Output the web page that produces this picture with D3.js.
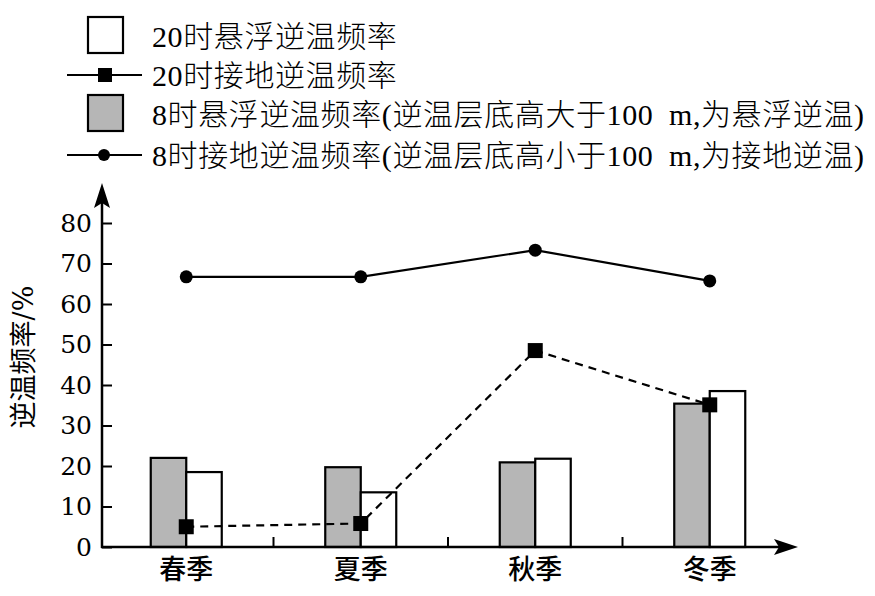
<!DOCTYPE html>
<html>
<head>
<meta charset="utf-8">
<script src="https://cdn.jsdelivr.net/npm/d3@7"></script>
<style>
    body { margin: 0; background: #fff; }
    svg { display: block; }
</style>
</head>
<body>
<div id="chart"></div>
<script>
// seasons and the four series (percent)
const seasons = ["春季", "夏季", "秋季", "冬季"];
const float8 = [22.0, 19.7, 20.9, 35.4];
const float20 = [18.5, 13.5, 21.8, 38.5];
const ground20 = [5.0, 5.8, 48.5, 35.1];
const ground8 = [66.7, 66.7, 73.3, 65.7];
const yTicks = [0, 10, 20, 30, 40, 50, 60, 70, 80];
const legendLabels = [
    "20时悬浮逆温频率",
    "20时接地逆温频率",
    "8时悬浮逆温频率(逆温层底高大于100\u2002m,为悬浮逆温)",
    "8时接地逆温频率(逆温层底高小于100\u2002m,为接地逆温)"
];

const width = 875,
    height = 596,
    x0 = 102,
    yBase = 547,
    serif = "'Liberation Serif', 'Noto Sans CJK SC', serif",
    cjk = "'Noto Sans CJK SC', sans-serif",

    x = d3.scaleBand().
        domain(seasons).
        range([99, 797]),

    y = d3.scaleLinear().
        domain([0, 80]).
        range([yBase, 223]),

    barW = 35.5,

    svg = d3.select("#chart").append("svg").
        attr("width", width).
        attr("height", height),

    cx = (i) => x(seasons[i]) + x.bandwidth() / 2;

// bars: 8时 grey on the left, 20时 white on the right
const bars = svg.append("g").attr("stroke", "#000").attr("stroke-width", 2.2);

bars.selectAll(".b8").
    data(float8).
    enter().
    append("rect").
    attr("x", (d, i) => cx(i) - barW).
    attr("y", (d) => y(d)).
    attr("width", barW).
    attr("height", (d) => yBase - y(d)).
    attr("fill", "#b6b6b6");

bars.selectAll(".b20").
    data(float20).
    enter().
    append("rect").
    attr("x", (d, i) => cx(i)).
    attr("y", (d) => y(d)).
    attr("width", barW).
    attr("height", (d) => yBase - y(d)).
    attr("fill", "#fff");

// axes
const yAxis = d3.axisLeft(y).
    tickValues(yTicks).
    tickSize(-10).
    tickSizeOuter(0).
    tickPadding(10);

const gy = svg.append("g").
    attr("transform", `translate(${x0},0)`).
    call(yAxis);
gy.select(".domain").remove();
gy.selectAll(".tick line").attr("stroke", "#000").attr("stroke-width", 2);
gy.selectAll(".tick text").
    attr("font-family", "'DejaVu Serif', serif").
    attr("font-size", 25).
    attr("fill", "#000");

const xAxis = d3.axisBottom(x).tickSize(0).tickPadding(13);
const gx = svg.append("g").
    attr("transform", `translate(0,${yBase})`).
    call(xAxis);
gx.select(".domain").remove();
gx.selectAll(".tick text").
    attr("font-family", cjk).
    attr("font-size", 27).
    attr("font-weight", 500).
    attr("fill", "#000");

// ticks between seasons
svg.selectAll(".sep").
    data(seasons.slice(1)).
    enter().
    append("line").
    attr("x1", (d) => x(d)).
    attr("x2", (d) => x(d)).
    attr("y1", yBase).
    attr("y2", yBase - 10).
    attr("stroke", "#000").
    attr("stroke-width", 2);

svg.append("line").
    attr("x1", x0).attr("x2", x0).
    attr("y1", yBase + 1).attr("y2", 195).
    attr("stroke", "#000").attr("stroke-width", 2.5);
svg.append("line").
    attr("x1", x0 - 1).attr("x2", 787).
    attr("y1", yBase).attr("y2", yBase).
    attr("stroke", "#000").attr("stroke-width", 2.5);

svg.append("path").
    attr("d", `M${x0},183 L${x0 + 8},208 L${x0},203 L${x0 - 8},208 Z`).
    attr("fill", "#000");
svg.append("path").
    attr("d", `M798,${yBase} L774,${yBase - 8} L779,${yBase} L774,${yBase + 8} Z`).
    attr("fill", "#000");

svg.append("text").
    attr("transform", `translate(33,357) rotate(-90)`).
    attr("text-anchor", "middle").
    attr("font-family", "'DejaVu Serif', 'Noto Sans CJK SC', serif").
    attr("font-size", 27).
    text("逆温频率/%");

// lines
const line = d3.line().
    x((d, i) => cx(i)).
    y((d) => y(d));

svg.append("path").
    datum(ground8).
    attr("d", line).
    attr("fill", "none").
    attr("stroke", "#000").
    attr("stroke-width", 2.2);

svg.selectAll(".dot").
    data(ground8).
    enter().
    append("circle").
    attr("cx", (d, i) => cx(i)).
    attr("cy", (d) => y(d)).
    attr("r", 6.5).
    attr("fill", "#000");

svg.append("path").
    datum(ground20).
    attr("d", line).
    attr("fill", "none").
    attr("stroke", "#000").
    attr("stroke-width", 2.2).
    attr("stroke-dasharray", "8,6");

svg.selectAll(".sq").
    data(ground20).
    enter().
    append("rect").
    attr("x", (d, i) => cx(i) - 7.5).
    attr("y", (d) => y(d) - 7.5).
    attr("width", 15).
    attr("height", 15).
    attr("fill", "#000");

// legend
const legendY = [36, 75, 114, 155],
    leg = svg.append("g");

leg.append("rect").
    attr("x", 88).attr("y", 17).attr("width", 35).attr("height", 36).
    attr("fill", "#fff").attr("stroke", "#000").attr("stroke-width", 2.2);
leg.append("rect").
    attr("x", 88).attr("y", 95).attr("width", 35).attr("height", 36).
    attr("fill", "#b6b6b6").attr("stroke", "#000").attr("stroke-width", 2.2);

[1, 3].forEach((k) => {
    leg.append("line").
        attr("x1", 67).attr("x2", 142).
        attr("y1", legendY[k]).attr("y2", legendY[k]).
        attr("stroke", "#000").attr("stroke-width", 2.2);
});
leg.append("rect").
    attr("x", 98).attr("y", legendY[1] - 7).attr("width", 14).attr("height", 14).
    attr("fill", "#000");
leg.append("circle").
    attr("cx", 104).attr("cy", legendY[3]).attr("r", 6).
    attr("fill", "#000");

leg.selectAll("text").
    data(legendLabels).
    enter().
    append("text").
    attr("x", 152).
    attr("y", (d, i) => legendY[i]).
    attr("dominant-baseline", "central").
    attr("font-family", serif).
    attr("font-size", 30).
    attr("font-weight", 300).
    attr("letter-spacing", 0.6).
    text((d) => d);
</script>
</body>
</html>
